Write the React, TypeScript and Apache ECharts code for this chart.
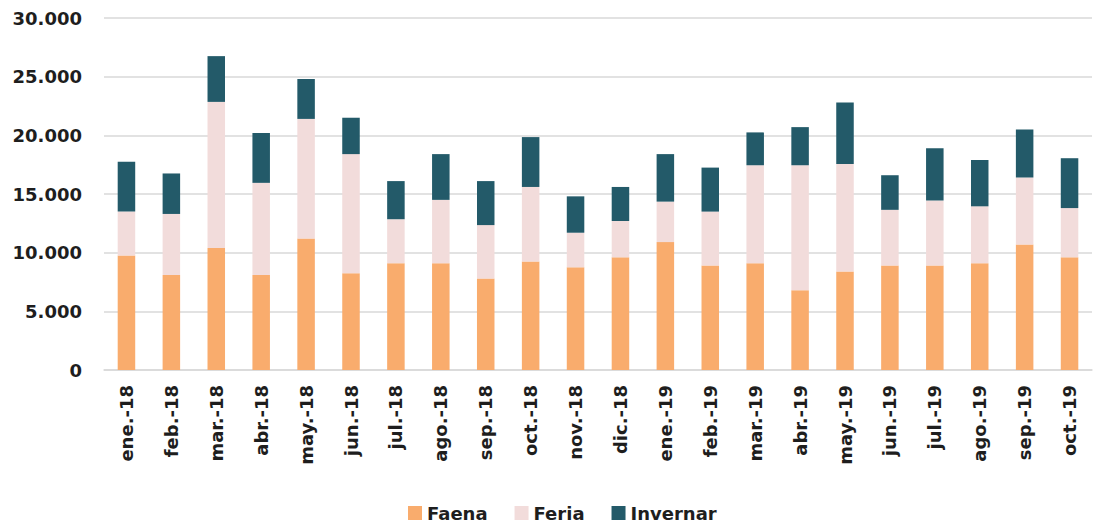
import React, { useEffect, useRef } from "react";
import * as echarts from "echarts";

const categories = [
  "ene.-18", "feb.-18", "mar.-18", "abr.-18", "may.-18", "jun.-18", "jul.-18", "ago.-18",
  "sep.-18", "oct.-18", "nov.-18", "dic.-18", "ene.-19", "feb.-19", "mar.-19", "abr.-19",
  "may.-19", "jun.-19", "jul.-19", "ago.-19", "sep.-19", "oct.-19",
];

const faena = [9750, 8100, 10400, 8100, 11200, 8250, 9100, 9100, 7800, 9250, 8750, 9600, 10900, 8900, 9100, 6800, 8400, 8900, 8900, 9100, 10700, 9600];
const feria = [3750, 5200, 12450, 7850, 10200, 10150, 3750, 5400, 4550, 6350, 2950, 3100, 3450, 4600, 8350, 10650, 9150, 4750, 5550, 4850, 5700, 4200];
const invernar = [4250, 3450, 3900, 4250, 3400, 3100, 3250, 3900, 3750, 4250, 3100, 2900, 4050, 3750, 2800, 3250, 5250, 2950, 4450, 3950, 4100, 4250];

const seriesNames = ["Faena", "Feria", "Invernar"];
const colors = ["#F9AC6D", "#F2DCDB", "#235A69"];

const fmt = (v: number) => String(v).replace(/\B(?=(\d{3})+(?!\d))/g, ".");

export default function App() {
  const ref = useRef<HTMLDivElement>(null);
  useEffect(() => {
    if (!ref.current) return;
    const chart = echarts.init(ref.current, null, { renderer: "svg" });
    const font = "'DejaVu Sans', sans-serif";
    const data = [faena, feria, invernar];
    chart.setOption({
      animation: false,
      textStyle: { fontFamily: font },
      grid: { left: 104, right: 4, top: 18, bottom: 154 },
      legend: {
        top: 503,
        left: 408,
        padding: 0,
        itemWidth: 14,
        itemHeight: 14,
        itemGap: 27,
        icon: "rect",
        textStyle: { fontFamily: font, fontSize: 18, lineHeight: 20, fontWeight: "bold", color: "#1E1E1E" },
        data: seriesNames,
      },
      xAxis: {
        type: "category",
        data: categories,
        axisLine: { lineStyle: { color: "#D9D9D9", width: 1.5 } },
        axisTick: { show: false },
        axisLabel: {
          rotate: 90,
          margin: 15,
          interval: 0,
          fontFamily: font,
          fontSize: 18,
          fontWeight: "bold",
          color: "#1E1E1E",
        },
      },
      yAxis: {
        type: "value",
        min: 0,
        max: 30000,
        interval: 5000,
        axisLine: { show: false },
        axisTick: { show: false },
        splitLine: { lineStyle: { color: "#D9D9D9", width: 1.5 } },
        axisLabel: {
          margin: 22,
          fontFamily: font,
          fontSize: 18,
          fontWeight: "bold",
          color: "#1E1E1E",
          formatter: (v: number) => fmt(v),
        },
      },
      series: seriesNames.map((name, i) => ({
        name,
        type: "bar",
        stack: "total",
        barWidth: "39%",
        data: data[i],
        itemStyle: { color: colors[i] },
      })),
    });
    return () => chart.dispose();
  }, []);
  return (
    <div
      ref={ref}
      style={{ position: "fixed", left: 0, top: 0, width: 1096, height: 524, background: "#fff" }}
    />
  );
}
